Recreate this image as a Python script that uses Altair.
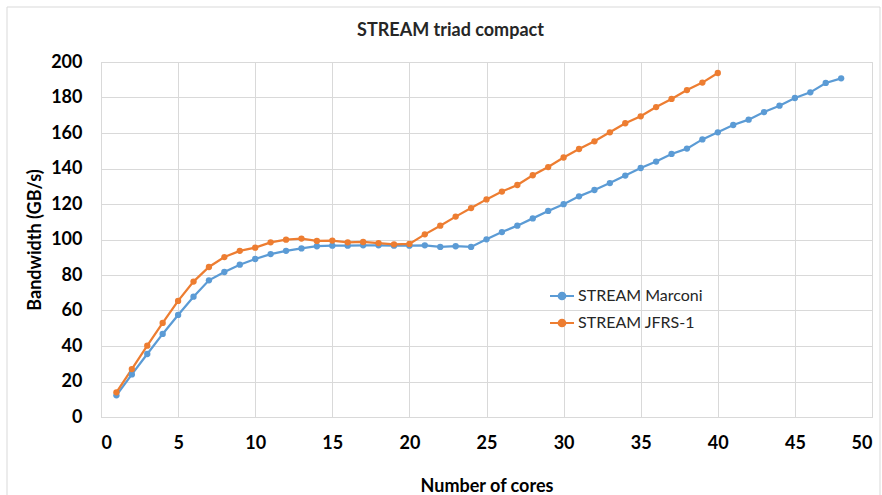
import altair as alt
import pandas as pd

# Bandwidth measurements (GB/s) per number of cores
cores_marconi = list(range(1, 49))
bw_marconi = [
    12.2, 24.0, 35.5, 46.8, 57.5, 67.8, 77.0, 81.7, 85.8, 89.0,
    91.8, 93.6, 95.0, 96.2, 96.5, 96.5, 96.7, 96.7, 96.5, 96.5,
    96.7, 95.8, 96.2, 95.8, 100.1, 104.2, 107.8, 111.9, 116.1, 119.9,
    124.3, 127.9, 131.8, 136.0, 140.3, 143.9, 148.2, 151.2, 156.4, 160.4,
    164.5, 167.5, 171.8, 175.4, 179.7, 182.9, 188.2, 190.8,
]
cores_jfrs = list(range(1, 41))
bw_jfrs = [
    13.9, 27.0, 40.2, 53.0, 65.4, 76.3, 84.5, 90.1, 93.6, 95.4,
    98.4, 99.9, 100.5, 99.2, 99.4, 98.4, 98.6, 98.0, 97.3, 97.5,
    102.9, 107.8, 112.9, 117.7, 122.6, 127.0, 130.7, 136.2, 140.8, 146.2,
    151.0, 155.3, 160.4, 165.5, 169.4, 174.6, 179.2, 184.2, 188.4, 193.8,
]
series_names = ["STREAM Marconi", "STREAM JFRS-1"]
series_colors = ["#5B9BD5", "#ED7D31"]

df = pd.concat([
    pd.DataFrame({"cores": cores_marconi, "bw": bw_marconi, "series": series_names[0]}),
    pd.DataFrame({"cores": cores_jfrs, "bw": bw_jfrs, "series": series_names[1]}),
])

FONT = "Lato"
W, H = 771, 355
PAD_L, PAD_T, PAD_R, PAD_B = 101, 62, 10, 78

color = alt.Color(
    "series:N",
    scale=alt.Scale(domain=series_names, range=series_colors),
    legend=alt.Legend(
        title=None,
        orient="none",
        legendX=448,
        legendY=221,
        symbolType="M-1,0L1,0M-0.28,0A0.28,0.28,0,1,1,0.28,0A0.28,0.28,0,1,1,-0.28,0Z",
        symbolSize=576,
        symbolStrokeWidth=2,
        labelFont=FONT,
        labelFontSize=16,
        labelColor="#262626",
        labelOffset=3,
        rowPadding=6,
    ),
)

x = alt.X(
    "cores:Q",
    scale=alt.Scale(domain=[0, 50], nice=False),
    axis=alt.Axis(
        values=list(range(0, 51, 5)),
        title="Number of cores",
        titleX=W / 2,
        titleY=69,
        titleBaseline="middle",
    ),
)
y = alt.Y(
    "bw:Q",
    scale=alt.Scale(domain=[0, 200], nice=False),
    axis=alt.Axis(
        values=list(range(0, 201, 20)),
        title="Bandwidth (GB/s)",
        titleX=-66,
        titleY=H / 2,
        titleAngle=-90,
        titleBaseline="middle",
    ),
)

base = alt.Chart(df)
lines = base.mark_line(strokeWidth=2.25).encode(x=x, y=y, color=color, detail="series:N")
points = base.mark_point(filled=True, size=40, opacity=1).encode(x=x, y=y, color=color)

# light grey border around the whole figure
frame = alt.Chart(pd.DataFrame({"k": [0]})).mark_rect(
    fill=None, stroke="#d9d9d9", strokeWidth=1
).encode(
    x=alt.value(-94), x2=alt.value(779), y=alt.value(-55), y2=alt.value(440)
)

chart = (
    alt.layer(lines, points, frame)
    .properties(
        width=W,
        height=H,
        padding={"left": PAD_L, "top": PAD_T, "right": PAD_R, "bottom": PAD_B},
        autosize=alt.AutoSizeParams(type="none"),
        title=alt.Title(
            "STREAM triad compact",
            font=FONT,
            fontSize=18,
            fontWeight="bold",
            color="#262626",
            anchor="middle",
            dx=-36,
            offset=-33,
        ),
    )
    .configure(background="white")
    .configure_view(stroke="#d9d9d9", strokeWidth=1)
    .configure_axis(
        grid=True,
        gridColor="#d9d9d9",
        gridWidth=1,
        domainColor="#d9d9d9",
        ticks=False,
        labelFont=FONT,
        labelFontSize=18,
        labelFontWeight="bold",
        labelColor="#000000",
        titleFont=FONT,
        titleFontSize=18,
        titleFontWeight="bold",
        titleColor="#000000",
    )
    .configure_axisX(labelPadding=17)
    .configure_axisY(labelPadding=19)
)

chart.save("out.html", embed_options={"renderer": "svg", "actions": False})
